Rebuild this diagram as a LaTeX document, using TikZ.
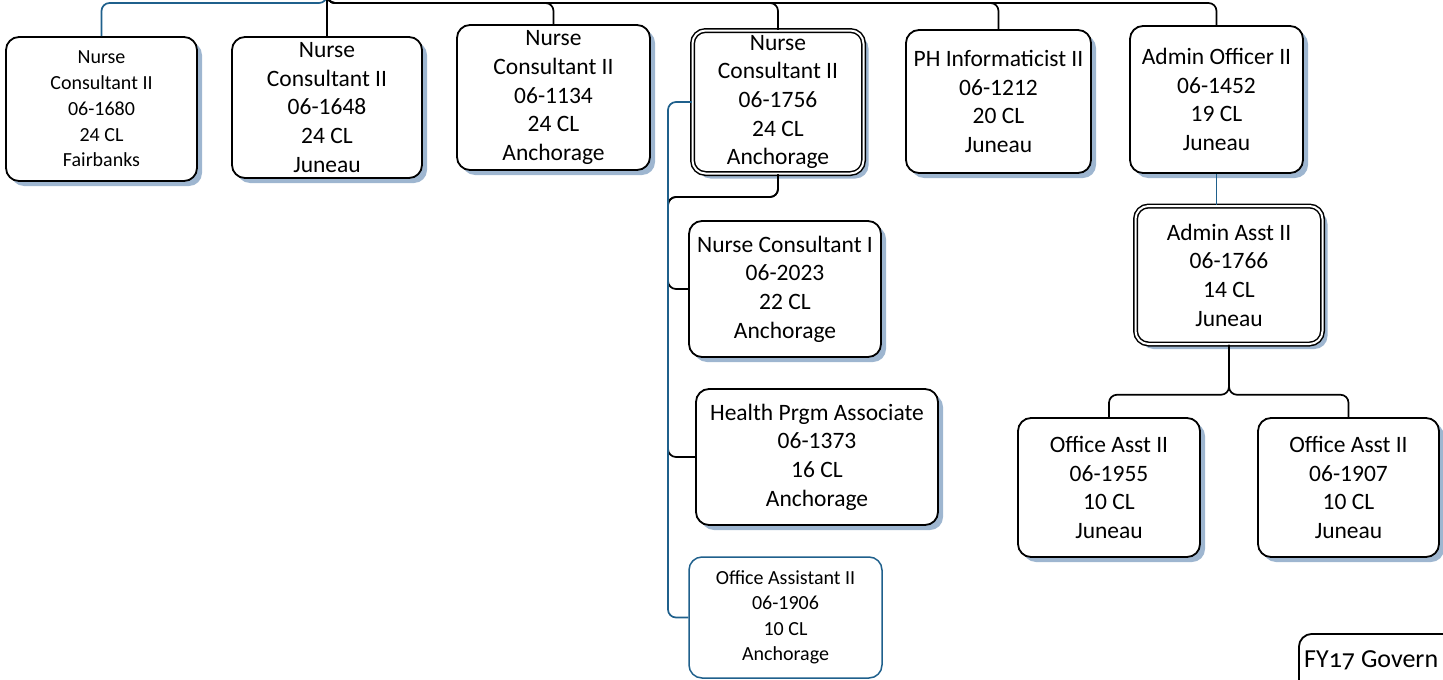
\documentclass[tikz,border=0pt]{standalone}
\usepackage{fontspec}
\setmainfont{Carlito}
\usepackage{tikz}
\usetikzlibrary{calc,shadows}
\definecolor{linkblue}{RGB}{31,96,140}
\definecolor{shadowblue}{RGB}{158,182,208}
\tikzset{
  post/.style={draw, line width=1.8pt, rounded corners=13pt, fill=white, align=center,
    inner sep=1pt, font=\fontsize{23.5}{28.7}\selectfont,
    drop shadow={shadow xshift=5pt, shadow yshift=-5pt, fill=shadowblue, opacity=1}},
  postsmall/.style={post, font=\fontsize{20}{25.7}\selectfont},
  postdouble/.style={post, double, double distance=2pt, line width=1.5pt},
  vacant/.style={draw=linkblue, line width=1.5pt, rounded corners=13pt, fill=white, align=center,
    inner sep=1pt, font=\fontsize{20}{25.5}\selectfont},
  conn/.style={line width=1.7pt, rounded corners=8pt},
  bluelink/.style={conn, draw=linkblue}
}
\begin{document}
\begin{tikzpicture}[x=1pt, y=-1pt]
\useasboundingbox (0,0) rectangle (1443,680);
% top row
\node[postsmall, minimum width=191, minimum height=144] (nc1680) at (101.5,109) {Nurse\\Consultant II\\06-1680\\24 CL\\Fairbanks};
\node[post, minimum width=190, minimum height=141] (nc1648) at (327,107.5) {Nurse\\Consultant II\\06-1648\\24 CL\\Juneau};
\node[post, minimum width=193, minimum height=145] (nc1134) at (553.5,97.5) {Nurse\\Consultant II\\06-1134\\24 CL\\Anchorage};
\node[postdouble, minimum width=171, minimum height=143] (nc1756) at (778,102) {Nurse\\Consultant II\\06-1756\\24 CL\\Anchorage};
\node[post, minimum width=185, minimum height=143] (phi1212) at (998.5,101.5) {PH Informaticist II\\06-1212\\20 CL\\Juneau};
\node[post, minimum width=173, minimum height=147] (ao1452) at (1216.5,99.5) {Admin Officer II\\06-1452\\19 CL\\Juneau};
% under nurse consultant 06-1756
\node[post, minimum width=192, minimum height=136] (nc2023) at (785,289) {Nurse Consultant I\\06-2023\\22 CL\\Anchorage};
\node[post, minimum width=242, minimum height=136] (hpa1373) at (817,457) {Health Prgm Associate\\06-1373\\16 CL\\Anchorage};
\node[vacant, minimum width=193, minimum height=121] (oa1906) at (785.5,617.5) {Office Assistant II\\06-1906\\10 CL\\Anchorage};
% under admin officer
\node[postdouble, minimum width=187, minimum height=138] (aa1766) at (1229,275) {Admin Asst II\\06-1766\\14 CL\\Juneau};
\node[post, minimum width=182, minimum height=139] (oa1955) at (1109,487.5) {Office Asst II\\06-1955\\10 CL\\Juneau};
\node[post, minimum width=181, minimum height=139] (oa1907) at (1348.5,487.5) {Office Asst II\\06-1907\\10 CL\\Juneau};
% footer box
\node[draw, line width=1.8pt, rounded corners=13pt, anchor=north west, minimum width=300, minimum height=120] (fybox) at (1298,633) {};
\node[anchor=base west, inner sep=0pt, font=\fontsize{26}{30}\selectfont\addfontfeatures{Numbers=OldStyle}] (fy17) at (1304,667) {FY17 Govern};

\coordinate (top) at (327,-40);
\coordinate (bar) at (327,3);
\coordinate (spine) at (668,197);

\draw[bluelink] (nc1680.north) |- (bar) -- (top);
\draw[conn] (top) -- (nc1648.north);
\draw[conn] (top) -- (bar) -| (nc1134.north);
\draw[conn] (top) -- (bar) -| (nc1756.north);
\draw[conn] (top) -- (bar) -| (phi1212.north);
\draw[conn] (top) -- (bar) -| (ao1452.north);

\draw[conn] (nc1756.south) |- (spine) |- (nc2023.west);
\draw[conn] (nc1756.south) |- (spine) |- (hpa1373.west);
\draw[bluelink] (nc1756.west) -| (spine) |- (oa1906.west);

\draw[bluelink] (ao1452.south) -- (ao1452.south |- aa1766.north);
\draw[conn] (aa1766.south) -- ++(0,50) -| (oa1955.north);
\draw[conn] (aa1766.south) -- ++(0,50) -| (oa1907.north);
\end{tikzpicture}
\end{document}
